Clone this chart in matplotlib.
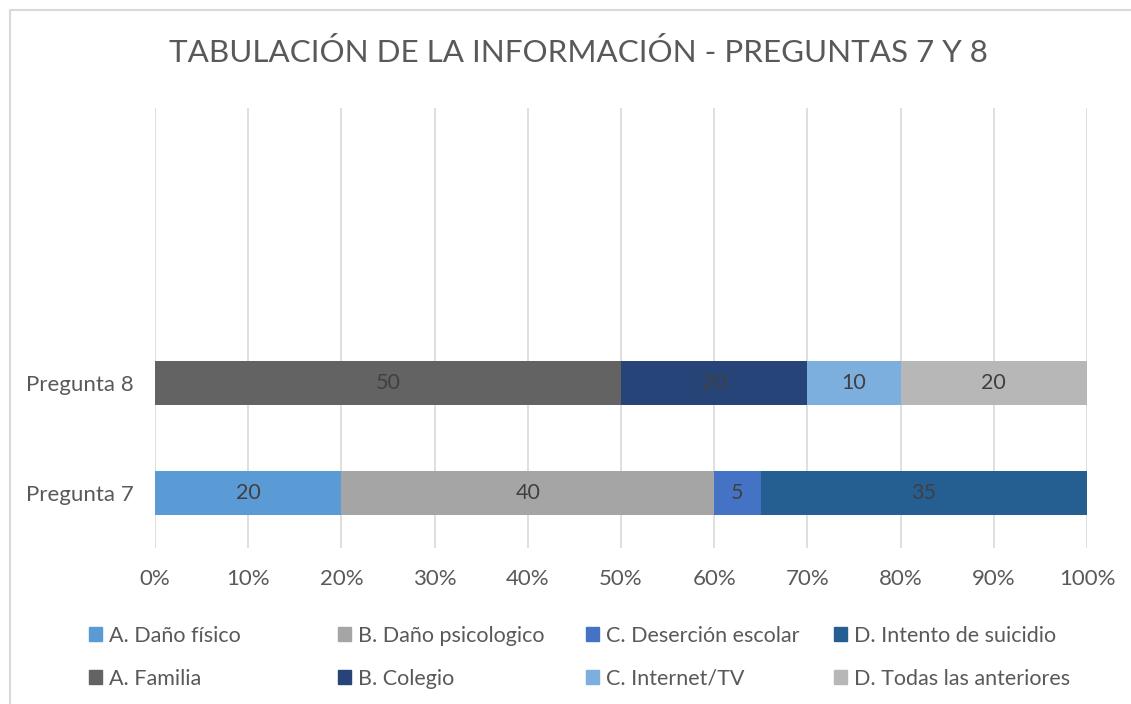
import numpy as np
import matplotlib
matplotlib.use("Agg")
import matplotlib.pyplot as plt
from matplotlib.patches import Patch
from matplotlib.lines import Line2D

# ===== DATOS =====
preguntas = ["Pregunta 7", "Pregunta 8"]

series_p7 = ["A. Daño físico", "B. Daño psicologico", "C. Deserción escolar", "D. Intento de suicidio"]
valores_p7 = [20, 40, 5, 35]
colores_p7 = ["#5B9BD5", "#A5A5A5", "#4472C4", "#255E91"]

series_p8 = ["A. Familia", "B. Colegio", "C. Internet/TV", "D. Todas las anteriores"]
valores_p8 = [50, 20, 10, 20]
colores_p8 = ["#636363", "#264478", "#7CAFDD", "#B7B7B7"]

ticks_x = np.arange(0, 101, 10)
titulo = "TABULACIÓN DE LA INFORMACIÓN - PREGUNTAS 7 Y 8"

plt.rcParams["font.family"] = ["Lato", "DejaVu Sans"]

# ===== FIGURA =====
fig = plt.figure(figsize=(11.31, 7.04), dpi=100)
ax = fig.add_axes([155 / 1131, 1 - 548 / 704, 932 / 1131, 440 / 704])

alto = 0.4
texto = "#404040"


def barra_apilada(y, valores, colores):
    total = sum(valores)
    izq = 0
    for v, c in zip(valores, colores):
        w = v / total * 100
        ax.barh(y, w, left=izq, height=alto, color=c, zorder=3)
        ax.text(izq + w / 2, y, str(v), ha="center", va="center",
                fontsize=15.5, color=texto, zorder=4)
        izq += w


barra_apilada(0, valores_p7, colores_p7)
barra_apilada(1, valores_p8, colores_p8)

ax.set_xlim(0, 100)
ax.set_ylim(-0.5, 3.5)
ax.set_xticks(ticks_x)
ax.set_xticklabels([f"{t}%" for t in ticks_x], fontsize=16, color="#595959")
ax.set_yticks([0, 1])
ax.set_yticklabels(preguntas, fontsize=16, color="#595959")
ax.tick_params(axis="both", length=0)
ax.tick_params(axis="x", pad=15)
ax.tick_params(axis="y", pad=15.5)
ax.grid(axis="x", color="#D9D9D9", linewidth=1.2, zorder=0)
for s in ax.spines.values():
    s.set_visible(False)

# titulo
fig.text(578 / 1131, 1 - 53 / 704, titulo, ha="center", va="center",
         fontsize=22.6, color="#595959")

# borde del grafico (solo se ve arriba e izquierda)
bx, by = 10 / 1131, 1 - 10 / 704
fig.add_artist(Line2D([bx, bx, 1.0], [0.0, by, by], transform=fig.transFigure,
                      color="#D9D9D9", linewidth=1.5))

# ===== LEYENDA (una columna por cada letra) =====
col_x = [89, 338, 586, 834]
for i in range(4):
    handles = [Patch(color=colores_p7[i]), Patch(color=colores_p8[i])]
    labels = [series_p7[i], series_p8[i]]
    leg = fig.legend(handles, labels, loc="upper left",
                     bbox_to_anchor=(col_x[i] / 1131, 1 - 625.5 / 704),
                     frameon=False, fontsize=15.5, handlelength=0.6,
                     handleheight=0.65, handletextpad=0.33, labelspacing=1.08,
                     borderaxespad=0, borderpad=0)
    for t in leg.get_texts():
        t.set_color("#595959")

fig.savefig("out.png", dpi=100)
